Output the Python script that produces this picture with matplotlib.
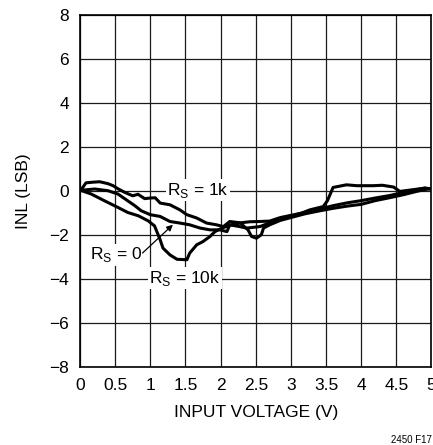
import numpy as np
import matplotlib
matplotlib.use("Agg")
import matplotlib.pyplot as plt

plt.rcParams["font.family"] = ["Liberation Sans Narrow", "Liberation Sans", "DejaVu Sans"]

# INL curves (input voltage in V, INL in LSB)
rs1k_v = [0.01, 0.085, 0.185, 0.28, 0.40, 0.47, 0.54, 0.64, 0.75, 0.825, 0.92, 1.0,
          1.07, 1.14, 1.28, 1.42, 1.52, 1.66, 1.80, 1.94, 2.04, 2.13, 2.28, 2.42,
          2.56, 2.70, 2.85, 3.00, 3.15, 3.30, 3.45, 3.60, 3.80, 4.00, 4.20, 4.40,
          4.60, 4.75, 4.90, 4.97]
rs1k_inl = [0.02, 0.36, 0.39, 0.41, 0.32, 0.23, 0.09, -0.08, -0.23, -0.16, -0.36, -0.33,
            -0.32, -0.56, -0.64, -0.87, -1.09, -1.24, -1.47, -1.55, -1.63, -1.40, -1.46, -1.41,
            -1.40, -1.38, -1.22, -1.12, -1.02, -0.92, -0.80, -0.68, -0.55, -0.45, -0.33, -0.22,
            -0.08, 0.02, 0.12, 0.10]

rs0_v = [0.01, 0.21, 0.40, 0.54, 0.68, 0.78, 0.87, 1.0, 1.14, 1.28, 1.42, 1.56,
         1.71, 1.85, 1.99, 2.09, 2.13, 2.25, 2.37, 2.56, 2.75, 2.99, 3.15, 3.27,
         3.46, 3.52, 3.60, 3.79, 3.94, 4.17, 4.30, 4.46, 4.55, 4.74, 4.91, 4.97]
rs0_inl = [0.02, 0.08, 0.0, -0.15, -0.46, -0.68, -0.91, -1.09, -1.17, -1.40, -1.47, -1.55,
           -1.70, -1.78, -1.78, -1.86, -1.55, -1.62, -1.70, -1.63, -1.40, -1.17, -1.02, -0.87,
           -0.72, -0.45, 0.15, 0.27, 0.23, 0.23, 0.25, 0.17, -0.03, 0.05, 0.12, 0.08]

rs10k_v = [0.01, 0.16, 0.35, 0.54, 0.68, 0.83, 0.97, 1.06, 1.14, 1.18, 1.28, 1.38,
           1.52, 1.56, 1.66, 1.75, 1.85, 1.92, 2.02, 2.15, 2.28, 2.39, 2.44, 2.51,
           2.58, 2.61, 2.70, 2.85, 3.00, 3.20, 3.40, 3.60, 3.80, 4.00, 4.20, 4.40,
           4.60, 4.80, 4.95]
rs10k_inl = [0.02, -0.15, -0.46, -0.76, -0.99, -1.14, -1.37, -1.60, -2.23, -2.61, -2.92, -3.12,
             -3.14, -2.84, -2.46, -2.31, -2.08, -1.86, -1.70, -1.55, -1.47, -1.78, -2.08, -2.16,
             -2.00, -1.70, -1.55, -1.35, -1.22, -1.05, -0.92, -0.80, -0.70, -0.62, -0.45, -0.32,
             -0.18, -0.02, 0.08]

x_ticks = [0, 0.5, 1, 1.5, 2, 2.5, 3, 3.5, 4, 4.5, 5]
x_labels = ["0", "0.5", "1", "1.5", "2", "2.5", "3", "3.5", "4", "4.5", "5"]
y_ticks = [-8, -6, -4, -2, 0, 2, 4, 6, 8]
y_labels = ["\u22128", "\u22126", "\u22124", "\u22122", "0", "2", "4", "6", "8"]

fig = plt.figure(figsize=(4.33, 4.45), dpi=100)
ax = fig.add_axes([0.1848, 0.1764, 0.8117, 0.7899])

for v, inl in [(rs1k_v, rs1k_inl), (rs0_v, rs0_inl), (rs10k_v, rs10k_inl)]:
    ax.plot(v, inl, color="black", linewidth=2.2, solid_joinstyle="round", zorder=3)

ax.set_xlim(0, 5)
ax.set_ylim(-8, 8)
ax.set_xticks(x_ticks)
ax.set_xticklabels(x_labels)
ax.set_yticks(y_ticks)
ax.set_yticklabels(y_labels)
ax.tick_params(length=0, labelsize=12.5, pad=8)
ax.grid(True, color="#1a1a1a", linewidth=0.9)
for s in ax.spines.values():
    s.set_linewidth(1.2)

ax.set_xlabel("INPUT VOLTAGE (V)", fontsize=12.5, labelpad=9)
ax.set_ylabel("INL (LSB)", fontsize=12.5, labelpad=13)

box = dict(facecolor="white", edgecolor="none", pad=1)
ax.text(1.68, 0.02, r"R$_\mathregular{S}$ = 1k", fontsize=12.5, ha="center", va="center",
        bbox=box, zorder=4)
ax.text(0.51, -2.92, r"R$_\mathregular{S}$ = 0", fontsize=12.5, ha="center", va="center",
        bbox=box, zorder=4)
ax.text(1.49, -3.98, r"R$_\mathregular{S}$ = 10k", fontsize=12.5, ha="center", va="center",
        bbox=box, zorder=4)
ax.annotate("", xy=(1.35, -1.46), xytext=(0.86, -2.92),
            arrowprops=dict(arrowstyle="-|>", color="black", lw=0.9,
                            mutation_scale=9), zorder=4)

fig.text(0.998, 0.0225, "2450 F17", fontsize=7, ha="right", va="top")

fig.savefig("out.png", dpi=100)
